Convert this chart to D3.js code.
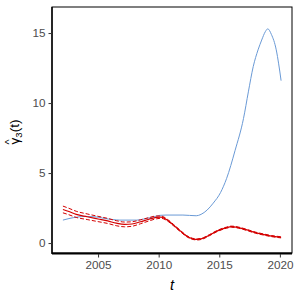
<!DOCTYPE html>
<html><head><meta charset="utf-8">
<script src="https://cdn.jsdelivr.net/npm/d3@7"></script>
<style>body{margin:0;background:#fff}svg{display:block}</style>
</head><body><svg id="c" width="300" height="300"></svg>
<script>
const blueT = [2002.1,2002.6,2003.3,2004.0,2005.0,2005.5,2006.2,2006.8,2008.2,2008.8,2009.5,2010.1,2010.6,2012.0,2013.1,2013.5,2014.0,2014.5,2015.1,2015.6,2016.3,2017.0,2017.4,2017.8,2018.2,2018.5,2018.8,2019.0,2019.3,2019.7,2019.9,2020.1];
const blueV = [1.64,1.75,1.86,1.9,1.85,1.76,1.68,1.64,1.64,1.72,1.85,1.98,2.0,2.0,1.95,2.05,2.36,2.85,3.6,4.6,6.6,8.9,10.8,12.6,13.8,14.5,15.1,15.3,14.9,13.8,12.8,11.6];
const redT = [2002.1,2002.6,2003.2,2004.1,2005.0,2005.8,2006.5,2007.2,2007.8,2008.5,2009.2,2009.8,2010.2,2010.7,2011.2,2011.8,2012.3,2012.8,2013.2,2013.7,2014.2,2014.8,2015.6,2016.0,2016.6,2017.3,2018.0,2018.6,2019.3,2020.1];
const redMid = [2.4,2.25,2.05,1.88,1.72,1.58,1.42,1.33,1.36,1.52,1.7,1.83,1.85,1.65,1.3,0.85,0.5,0.3,0.26,0.35,0.57,0.85,1.1,1.17,1.1,0.93,0.74,0.62,0.5,0.41];
const redUpper = [2.64,2.48,2.27,2.08,1.91,1.76,1.6,1.5,1.52,1.66,1.82,1.93,1.93,1.71,1.35,0.895,0.54,0.34,0.3,0.39,0.61,0.89,1.14,1.21,1.14,0.97,0.78,0.66,0.54,0.45];
const redLower = [2.16,2.02,1.83,1.68,1.53,1.4,1.24,1.16,1.2,1.38,1.58,1.73,1.77,1.59,1.25,0.805,0.46,0.26,0.22,0.31,0.53,0.81,1.06,1.13,1.06,0.89,0.7,0.58,0.46,0.37];
const xTicks = [2005,2010,2015,2020];
const yTicks = [0,5,10,15];

const svg = d3.select('#c');
const L=52,R=292,T=7,B=253;
const x = d3.scaleLinear().domain([2001.2,2021.0]).range([L,R]);
const y = d3.scaleLinear().domain([-0.71,16.86]).range([B,T]);

const line = (ts, vs) => d3.line().x((d,i)=>x(ts[i])).y(d=>y(d)).curve(d3.curveMonotoneX)(vs);

svg.append('path').attr('d',line(blueT,blueV)).attr('fill','none').attr('stroke','#6a9ad6').attr('stroke-width',1);
svg.append('path').attr('d',line(redT,redUpper)).attr('fill','none').attr('stroke','#d40000').attr('stroke-width',1).attr('stroke-dasharray','4,2');
svg.append('path').attr('d',line(redT,redLower)).attr('fill','none').attr('stroke','#d40000').attr('stroke-width',1).attr('stroke-dasharray','4,2');
svg.append('path').attr('d',line(redT,redMid)).attr('fill','none').attr('stroke','#d40000').attr('stroke-width',1.2);

svg.append('rect').attr('x',L).attr('y',T).attr('width',R-L).attr('height',B-T).attr('fill','none').attr('stroke','#000').attr('stroke-width',1);
svg.append('line').attr('x1',L).attr('x2',R).attr('y1',B+0.5).attr('y2',B+0.5).attr('stroke','#000').attr('stroke-width',1.8);
svg.append('line').attr('x1',L).attr('x2',L).attr('y1',T).attr('y2',B+1).attr('stroke','#000').attr('stroke-width',1.4);

const xa = svg.append('g').attr('transform',`translate(0,${B+1})`).call(d3.axisBottom(x).tickValues(xTicks).tickFormat(d3.format('d')).tickSize(3.5).tickPadding(3));
const ya = svg.append('g').attr('transform',`translate(${L},0)`).call(d3.axisLeft(y).tickValues(yTicks).tickSize(3.5).tickPadding(3));
[xa,ya].forEach(a=>{a.select('.domain').remove();a.selectAll('line').attr('stroke','#333');a.selectAll('text').attr('fill','#4d4d4d').style('font-family','Liberation Sans, Arial, sans-serif').style('font-size','11.7px');});

svg.append('text').attr('x',(L+R)/2).attr('y',290).attr('text-anchor','middle').style('font-family','Liberation Sans, Arial, sans-serif').style('font-size','14.5px').style('font-style','italic').text('t');

const g = svg.append('g').attr('transform','translate(19,132) rotate(-90)');
const yl = g.append('text').attr('text-anchor','middle').style('font-family','Liberation Sans, Arial, sans-serif').style('font-size','13.5px').attr('fill','#000');
yl.append('tspan').text('γ');
yl.append('tspan').attr('dy',3).style('font-size','9.5px').text('3');
yl.append('tspan').attr('dy',-3).text('(t)');
g.append('text').attr('x',-10).attr('y',-6).attr('text-anchor','middle').style('font-family','Liberation Sans, Arial, sans-serif').style('font-size','11px').text('^');
</script></body></html>
